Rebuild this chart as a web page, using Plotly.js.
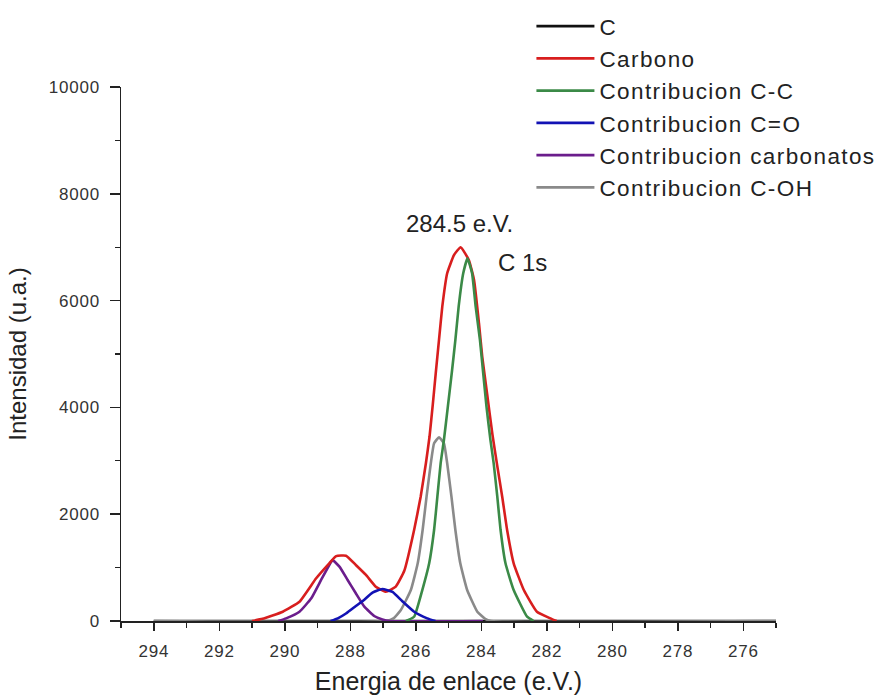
<!DOCTYPE html>
<html>
<head>
<meta charset="utf-8">
<script src="https://cdn.plot.ly/plotly-3.0.1.min.js"></script>
<style>
  html, body { margin: 0; padding: 0; background: #fff; }
  #chart { width: 885px; height: 695px; }
  .xtick text, .ytick text { letter-spacing: 0.8px; }
  .legendtext { letter-spacing: 1.4px; }
</style>
</head>
<body>
<div id="chart"></div>
<script>
// C 1s XPS spectrum: envelope and fitted contributions (binding energy in eV)
const seriesNames = ["C", "Carbono", "Contribucion C-C", "Contribucion C=O",
                     "Contribucion carbonatos", "Contribucion C-OH"];

// measured spectrum (flat along the baseline)
const cEnergy = [294, 275];
const cIntensity = [0, 0];

// envelope
const carbonoEnergy = [291.0, 290.68, 290.06, 289.55, 289.04, 288.64, 288.43, 288.13, 287.83,
  287.52, 287.22, 286.91, 286.61, 286.35, 286.05, 285.85, 285.69, 285.58, 285.48, 285.39,
  285.29, 285.19, 285.04, 284.83, 284.63, 284.38, 284.22, 284.07, 283.97, 283.82, 283.66,
  283.51, 283.36, 283.21, 283.01, 282.70, 282.30, 281.89, 281.7];
const carbonoIntensity = [0, 40, 174, 362, 800, 1080, 1215, 1223, 1049,
  862, 643, 549, 643, 940, 1704, 2328, 2953, 3450, 4050, 4639,
  5263, 5887, 6512, 6855, 7000, 6762, 6387, 5576, 4951, 4250, 3500,
  2900, 2328, 1704, 1080, 580, 174, 50, 0];

// C-C component
const ccEnergy = [286.3, 286.05, 285.80, 285.59, 285.44, 285.34, 285.24, 285.14, 285.02,
  284.89, 284.79, 284.69, 284.55, 284.42, 284.28, 284.17, 284.04, 283.94, 283.84, 283.72,
  283.62, 283.51, 283.41, 283.26, 283.01, 282.60, 282.4];
const ccIntensity = [0, 80, 580, 1080, 1704, 2328, 2953, 3390, 4014,
  4700, 5263, 5887, 6512, 6793, 6512, 5887, 5263, 4639, 4014, 3390,
  2953, 2328, 1704, 1080, 580, 80, 0];

// C=O component
const coEnergy = [288.6, 288.38, 288.13, 287.83, 287.57, 287.32, 287.02, 286.71, 286.41,
  286.05, 285.65, 285.4];
const coIntensity = [0, 50, 140, 280, 400, 530, 600, 545, 370, 174, 50, 0];

// carbonate component
const carbEnergy = [290.2, 289.96, 289.55, 289.19, 288.89, 288.64, 288.54, 288.33, 288.08,
  287.83, 287.57, 287.27, 287.02, 286.8, 283.95];
const carbIntensity = [0, 50, 174, 425, 768, 1049, 1140, 1017, 768,
  519, 268, 94, 30, 0, 0];

// C-OH component
const cohEnergy = [294, 286.9, 286.68, 286.46, 286.15, 285.94, 285.79, 285.67, 285.54,
  285.44, 285.29, 285.14, 285.04, 284.91, 284.79, 284.64, 284.43, 284.12, 283.88, 283.7, 275];
const cohIntensity = [0, 0, 50, 200, 580, 1080, 1704, 2328, 2953,
  3328, 3440, 3328, 2953, 2328, 1704, 1080, 580, 174, 40, 0, 0];

const xTicks = [294, 292, 290, 288, 286, 284, 282, 280, 278, 276];
const yTicks = [0, 2000, 4000, 6000, 8000, 10000];

const font = "Arial, 'Liberation Sans', sans-serif";

function line(name, x, y, color, rank) {
  return {
    type: "scatter", mode: "lines", name: name, x: x, y: y,
    line: { color: color, width: 2.6, shape: "spline", smoothing: 0.4 },
    legendrank: rank, hoverinfo: "skip"
  };
}

const traces = [
  line(seriesNames[0], cEnergy, cIntensity, "#111111", 1),
  line(seriesNames[5], cohEnergy, cohIntensity, "#8a8a8a", 6),
  line(seriesNames[4], carbEnergy, carbIntensity, "#6b1d8c", 5),
  line(seriesNames[1], carbonoEnergy, carbonoIntensity, "#d81e1e", 2),
  line(seriesNames[2], ccEnergy, ccIntensity, "#3b8a47", 3),
  line(seriesNames[3], coEnergy, coIntensity, "#1212b4", 4)
];

const layout = {
  width: 885, height: 695,
  margin: { l: 121, r: 109, t: 87, b: 74, autoexpand: false },
  paper_bgcolor: "#ffffff", plot_bgcolor: "#ffffff",
  font: { family: font, color: "#222222" },
  showlegend: true,
  legend: {
    x: 0.6266, y: 1.1536, xanchor: "left", yanchor: "top",
    bgcolor: "rgba(0,0,0,0)", borderwidth: 0,
    font: { family: font, size: 22.5, color: "#222222" },
    tracegroupgap: 0, itemwidth: 58
  },
  xaxis: {
    range: [295, 275], showgrid: false, zeroline: false,
    showline: true, linecolor: "#222222", linewidth: 1.5,
    tickmode: "array", tickvals: xTicks, ticktext: xTicks.map(String),
    ticks: "outside", ticklen: 8, tickwidth: 1.5, tickcolor: "#222222",
    ticklabelstandoff: 6,
    tickfont: { family: font, size: 17, color: "#333333" },
    minor: { dtick: 1, tick0: 275, ticks: "outside", ticklen: 5, tickwidth: 1.2, tickcolor: "#222222", showgrid: false },
    title: { text: "Energia de enlace (e.V.)", font: { family: font, size: 25, color: "#222222" }, standoff: 14 }
  },
  yaxis: {
    range: [0, 10000], showgrid: false, zeroline: false,
    showline: true, linecolor: "#222222", linewidth: 1.5,
    tickmode: "array", tickvals: yTicks, ticktext: yTicks.map(String),
    ticks: "outside", ticklen: 10, tickwidth: 1.5, tickcolor: "#222222",
    ticklabelstandoff: 6,
    tickfont: { family: font, size: 17, color: "#333333" },
    minor: { dtick: 1000, ticks: "outside", ticklen: 5, tickwidth: 1.2, tickcolor: "#222222", showgrid: false },
    title: { text: "Intensidad (u.a.)", font: { family: font, size: 24, color: "#222222" }, standoff: 15 }
  },
  annotations: [
    { x: 284.65, y: 7440, xref: "x", yref: "y", text: "284.5 e.V.", showarrow: false,
      font: { family: font, size: 24, color: "#222222" } },
    { x: 282.75, y: 6705, xref: "x", yref: "y", text: "C 1s", showarrow: false,
      font: { family: font, size: 24, color: "#222222" } }
  ]
};

Plotly.newPlot("chart", traces, layout, { displayModeBar: false, staticPlot: true });
</script>
</body>
</html>
